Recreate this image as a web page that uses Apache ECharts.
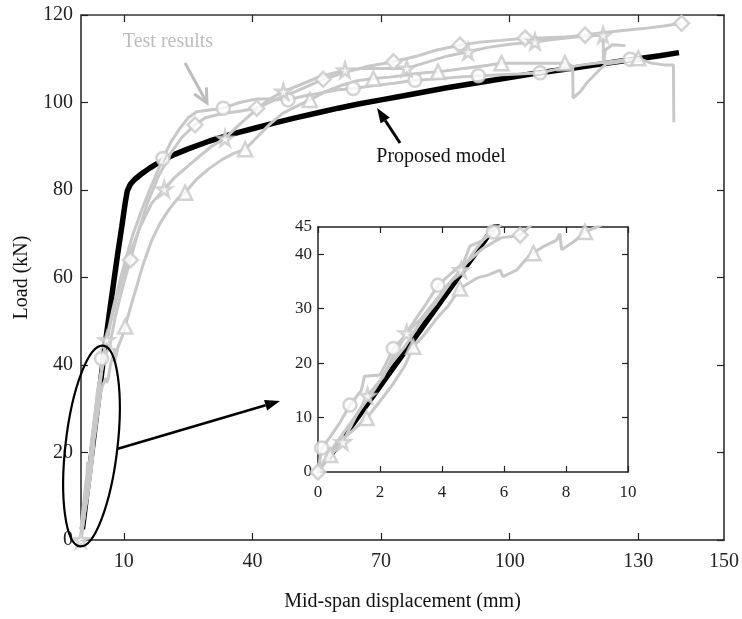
<!DOCTYPE html>
<html>
<head>
<meta charset="utf-8">
<script src="https://cdn.jsdelivr.net/npm/echarts@6/dist/echarts.min.js"></script>
<style>
  html, body { margin: 0; padding: 0; background: #fff; }
  #chart { width: 742px; height: 619px; }
</style>
</head>
<body>
<div id="chart"></div>
<script>
// axis ticks
const xMainTicks = [10, 40, 70, 100, 130, 150]
const yMainTicks = [0, 20, 40, 60, 80, 100, 120]
const xInsetTicks = [0, 2, 4, 6, 8, 10]
const yInsetTicks = [0, 10, 20, 30, 40, 45]

// proposed model (mm, kN)
const model = [[0.33, 2.5], [5.66, 44.8], [6.5, 51], [7.5, 58], [8.5, 65], [9.5, 71.5], [10.3, 77], [10.8, 79.8],
  [11.5, 81.3], [12.5, 82.4], [14, 83.6], [16, 85], [19, 86.8], [22, 88.2], [25, 89.4], [30, 91.2], [35, 92.7],
  [40, 94], [45, 95.3], [50, 96.5], [55, 97.6], [60, 98.7], [65, 99.7], [70, 100.6], [75, 101.5], [80, 102.4],
  [85, 103.3], [90, 104.1], [95, 104.9], [100, 105.7], [105, 106.5], [110, 107.2], [115, 107.9], [120, 108.6],
  [125, 109.3], [130, 110], [135, 110.7], [139.5, 111.4]]

// test curves
const testCircle = [[0, 0], [0.12, 4.4], [0.4, 6.5], [0.7, 9], [1.03, 12.3], [1.4, 15], [1.5, 17.6], [2.0, 17.8],
  [2.2, 20], [2.43, 22.7], [2.8, 25], [3.2, 28.5], [3.5, 31], [3.87, 34.3], [4.3, 36.5], [4.7, 38.5], [4.9, 41.5],
  [5.3, 42.5], [5.65, 44.1], [6.2, 47], [7.5, 53], [9, 59], [10.5, 64.5], [12, 69.5], [14, 75], [16, 80],
  [19.1, 87.2], [21, 91], [23, 94], [25, 96.5], [27, 97.9], [30, 98.3], [33.2, 98.7], [37, 100], [41, 100.8],
  [44, 100.8], [48.3, 100.6], [52, 101.5], [56, 102.2], [60, 102.9], [63.5, 103.2], [68, 103.8], [73, 104.4],
  [77.9, 105.1], [83, 105.4], [88, 105.8], [92.7, 106.1], [97, 106.3], [102, 106.5], [107.1, 106.8], [112, 107.8],
  [117, 108.6], [122, 109.2], [128.1, 109.9], [131, 109.6]]

const testDiamond = [[0, 0], [0.3, 3], [0.8, 7], [1.3, 11], [1.8, 15], [2.3, 19.5], [2.8, 23], [3.3, 27.5],
  [3.8, 31], [4.3, 35], [4.8, 38.5], [5.3, 41], [5.9, 43], [6.52, 43.5], [7, 46], [8, 51], [9.5, 57], [11.5, 64],
  [13.5, 71], [15.5, 77], [18, 83], [21, 88.5], [23.5, 92], [26.6, 94.9], [29, 96.5], [33, 97.5], [37, 98],
  [41, 98.7], [45, 100.5], [50, 102.5], [56.5, 105.3], [62, 107], [67, 108.3], [72.9, 109.3], [78, 110.5],
  [83, 112], [88.4, 113.1], [93, 113.8], [98, 114.2], [103.6, 114.7], [108, 114.8], [113, 115], [117.6, 115.4],
  [122, 116], [127, 116.5], [132, 117], [136, 117.5], [140.1, 118.1]]

const testStar = [[0, 0], [0.4, 3], [0.8, 5.5], [1.2, 10], [1.6, 14], [2.1, 17.5], [2.4, 21], [2.86, 25.5],
  [3.3, 28], [3.8, 31.5], [4.2, 34.5], [4.62, 37.1], [5.1, 41], [5.6, 44.5], [6, 45.7], [7, 50], [8.5, 56],
  [10, 61], [12, 67], [14, 72], [16.5, 77], [19.4, 80.2], [22, 83], [25, 85.5], [28, 88], [30.5, 90],
  [33.6, 91.8], [37, 95], [41, 98.5], [44, 100.8], [47.2, 102.5], [51, 104], [56, 106], [61.6, 107.4],
  [66, 107.8], [71, 107.8], [76, 107.8], [80, 109], [85, 110.5], [90.3, 111.6], [95, 112.6], [100, 113.3],
  [105.9, 113.9], [111, 114.5], [116, 115], [121.8, 115.4], [121.9, 108.8], [122.3, 112], [124, 113.2], [127, 113]]

const testTriangle = [[0, 0], [0.39, 3.1], [0.8, 6], [1.2, 8], [1.57, 9.9], [2, 13], [2.4, 16], [2.8, 19.5],
  [3.07, 23], [3.4, 25], [3.8, 28], [4.2, 30.5], [4.58, 33.7], [5.12, 35.6], [5.5, 36.2], [5.87, 37.1],
  [5.97, 35.9], [6.41, 37.1], [6.84, 39.9], [7.3, 41.5], [7.7, 42.6], [7.8, 43.8], [7.86, 40.8], [8.3, 42.5],
  [8.61, 44.1], [8.99, 45], [9.6, 46.5], [10.3, 48.8], [11.5, 53], [13, 58], [14.5, 63], [16.5, 68.5],
  [18.5, 72.5], [20.5, 75.5], [22.5, 78], [24.3, 79.4], [27, 82.5], [30, 85], [33, 87], [35.5, 88.3],
  [38.3, 89.3], [41, 92], [44, 95], [47, 97.5], [50, 99], [53.4, 100.6], [57, 102.5], [61, 104], [64.5, 105],
  [68.2, 105.5], [72, 105.8], [76, 106.3], [80, 106.8], [83.3, 107], [87, 107.5], [91, 108], [95, 108.5],
  [98.1, 109], [102, 109], [106, 109], [110, 109], [112.9, 109], [114.7, 108.3], [114.8, 101], [116.5, 102.5],
  [118, 104.5], [119.5, 106], [121, 107.5], [122.5, 108.8], [126, 109.3], [130, 110.1], [133, 109],
  [136, 108.6], [138.2, 108.6], [138.3, 95.5]]

// marker positions, main plot
const mainCircleMarks = [[4.8, 41.5], [19.1, 87.2], [33.2, 98.7], [48.3, 100.6], [63.5, 103.2], [77.9, 105.1],
  [92.7, 106.1], [107.1, 106.8], [128.1, 109.9]]
const mainDiamondMarks = [[11.5, 64], [26.6, 94.9], [41, 98.7], [56.5, 105.3], [72.9, 109.3], [88.4, 113.1],
  [103.6, 114.7], [117.6, 115.4], [140.1, 118.1]]
const mainStarMarks = [[0, 0], [6, 45.7], [19.4, 80.2], [33.6, 91.8], [47.2, 102.5], [61.6, 107.4], [76, 107.8],
  [90.3, 111.6], [105.9, 113.9], [121.8, 115.4]]
const mainTriangleMarks = [[10.3, 48.8], [24.3, 79.4], [38.3, 89.3], [53.4, 100.6], [68.2, 105.5], [83.3, 107],
  [98.1, 109], [112.9, 109], [130, 110.1]]

// marker positions, inset
const insetCircleMarks = [[0.12, 4.4], [1.03, 12.3], [2.43, 22.7], [3.87, 34.3], [5.65, 44.1]]
const insetDiamondMarks = [[0, 0], [6.52, 43.5]]
const insetStarMarks = [[0.8, 5.5], [1.6, 14], [2.86, 25.5], [4.62, 37.1]]
const insetTriangleMarks = [[0.39, 3.1], [1.57, 9.9], [3.07, 23], [4.58, 33.7], [6.95, 40.2], [8.61, 44.1]]

const GRAY = '#c8c8c8'
const FONT = 'Liberation Serif'
const STAR = 'path://M50,0 L61,35 L98,35 L68,57 L79,91 L50,70 L21,91 L32,57 L2,35 L39,35 Z'

const chart = echarts.init(document.getElementById('chart'))

function makeSeries(xi, yi, marks, w) {
  const out = []
  out.push({
    type: 'line', xAxisIndex: xi, yAxisIndex: yi, data: model, symbol: 'none',
    lineStyle: { color: '#000', width: w + 2.5 }, z: 2, silent: true
  })
  ;[testCircle, testDiamond, testStar, testTriangle].forEach(d => {
    out.push({
      type: 'line', xAxisIndex: xi, yAxisIndex: yi, data: d, symbol: 'none',
      lineStyle: { color: GRAY, width: w }, z: 3, silent: true
    })
  })
  const shapes = ['circle', 'diamond', STAR, 'triangle']
  const sizes = [13, 15, 15, 14]
  marks.forEach((m, i) => {
    out.push({
      type: 'scatter', xAxisIndex: xi, yAxisIndex: yi, data: m, symbol: shapes[i],
      symbolSize: sizes[i], z: 4, silent: true,
      itemStyle: { color: '#fff', borderColor: GRAY, borderWidth: 2.5 }
    })
  })
  return out
}

// arrow as line + head; open head draws a V instead of a filled triangle
function arrow(x1, y1, x2, y2, color, w, hl, hw, open) {
  const a = Math.atan2(y2 - y1, x2 - x1)
  const bx = x2 - hl * Math.cos(a), by = y2 - hl * Math.sin(a)
  const px = -Math.sin(a) * hw / 2, py = Math.cos(a) * hw / 2
  if (open) {
    return [
      { type: 'line', shape: { x1: x1, y1: y1, x2: x2, y2: y2 }, style: { stroke: color, lineWidth: w }, z: 10 },
      { type: 'polyline', shape: { points: [[bx + px, by + py], [x2, y2], [bx - px, by - py]] },
        style: { stroke: color, lineWidth: w, fill: 'none' }, z: 10 }
    ]
  }
  return [
    { type: 'line', shape: { x1: x1, y1: y1, x2: bx, y2: by }, style: { stroke: color, lineWidth: w }, z: 10 },
    { type: 'polygon', shape: { points: [[x2, y2], [bx + px, by + py], [bx - px, by - py]] }, style: { fill: color }, z: 10 }
  ]
}

const axisLine = { show: true, onZero: false, lineStyle: { color: '#222', width: 1.5 } }
const tickStyle = { show: true, inside: true, length: 7, lineStyle: { color: '#222', width: 1.2 } }

const option = {
  animation: false,
  backgroundColor: '#fff',
  grid: [
    { left: 81, right: 18, top: 15, bottom: 79 },
    { left: 318, top: 227, width: 310, height: 245, show: true, backgroundColor: '#fff', borderWidth: 0, z: 5 }
  ],
  xAxis: [
    {
      type: 'value', gridIndex: 0, min: 0, max: 150, position: 'bottom',
      name: 'Mid-span displacement (mm)', nameLocation: 'middle', nameGap: 52,
      nameTextStyle: { fontFamily: FONT, fontSize: 20, color: '#111' },
      axisLine: axisLine, splitLine: { show: false },
      axisTick: Object.assign({}, tickStyle, { customValues: xMainTicks.slice(0, 5) }),
      axisLabel: { customValues: xMainTicks, fontFamily: FONT, fontSize: 20, color: '#222', margin: 12 }
    },
    {
      type: 'value', gridIndex: 0, min: 0, max: 150, position: 'top',
      axisLine: { show: true, onZero: false, lineStyle: { color: '#666', width: 2 } }, splitLine: { show: false },
      axisTick: Object.assign({}, tickStyle, { customValues: xMainTicks.slice(0, 5) }),
      axisLabel: { show: false }
    },
    {
      type: 'value', gridIndex: 1, min: 0, max: 10, interval: 2, position: 'bottom', z: 6,
      axisLine: axisLine, splitLine: { show: false },
      axisTick: Object.assign({}, tickStyle, { length: 6 }),
      axisLabel: { customValues: xInsetTicks, fontFamily: FONT, fontSize: 17, color: '#222', margin: 12 }
    },
    {
      type: 'value', gridIndex: 1, min: 0, max: 10, interval: 2, position: 'top', z: 6,
      axisLine: axisLine, splitLine: { show: false },
      axisTick: Object.assign({}, tickStyle, { length: 6 }), axisLabel: { show: false }
    }
  ],
  yAxis: [
    {
      type: 'value', gridIndex: 0, min: 0, max: 120, interval: 20, position: 'left',
      name: 'Load (kN)', nameLocation: 'middle', nameGap: 43,
      nameTextStyle: { fontFamily: FONT, fontSize: 20, color: '#111' },
      axisLine: axisLine, splitLine: { show: false },
      axisTick: tickStyle,
      axisLabel: { customValues: yMainTicks, fontFamily: FONT, fontSize: 20, color: '#222', margin: 8 }
    },
    {
      type: 'value', gridIndex: 0, min: 0, max: 120, interval: 20, position: 'right',
      axisLine: axisLine, splitLine: { show: false }, axisTick: tickStyle, axisLabel: { show: false }
    },
    {
      type: 'value', gridIndex: 1, min: 0, max: 45, position: 'left', z: 6,
      axisLine: axisLine, splitLine: { show: false },
      axisTick: Object.assign({}, tickStyle, { length: 6, customValues: yInsetTicks.slice(1, 5) }),
      axisLabel: { customValues: yInsetTicks, fontFamily: FONT, fontSize: 17, color: '#222', margin: 6 }
    },
    {
      type: 'value', gridIndex: 1, min: 0, max: 45, position: 'right', z: 6,
      axisLine: axisLine, splitLine: { show: false },
      axisTick: Object.assign({}, tickStyle, { length: 6, customValues: yInsetTicks.slice(1, 5) }),
      axisLabel: { show: false }
    }
  ],
  series: makeSeries(0, 0, [mainCircleMarks, mainDiamondMarks, mainStarMarks, mainTriangleMarks], 3)
    .concat(makeSeries(2, 2, [insetCircleMarks, insetDiamondMarks, insetStarMarks, insetTriangleMarks], 3)
      .map(s => Object.assign(s, { z: s.z + 6 }))),
  graphic: [
    {
      type: 'text', x: 168, y: 42, z: 10,
      style: { text: 'Test results', font: '20px "Liberation Serif"', fill: '#bdbdbd', textAlign: 'center', textVerticalAlign: 'middle' }
    },
    {
      type: 'text', x: 441, y: 157, z: 10,
      style: { text: 'Proposed model', font: '20px "Liberation Serif"', fill: '#111', textAlign: 'center', textVerticalAlign: 'middle' }
    },
    {
      type: 'ellipse', x: 91.5, y: 446, rotation: -0.115, z: 10,
      shape: { cx: 0, cy: 0, rx: 26, ry: 101 },
      style: { fill: 'none', stroke: '#000', lineWidth: 2.2 }
    }
  ].concat(arrow(185, 63, 207, 103, '#bdbdbd', 3, 14, 14, true))
   .concat(arrow(400, 143, 377, 108, '#000', 3, 15, 11))
   .concat(arrow(117, 449, 280, 401, '#000', 2.5, 15, 11))
}

chart.setOption(option)
</script>
</body>
</html>
